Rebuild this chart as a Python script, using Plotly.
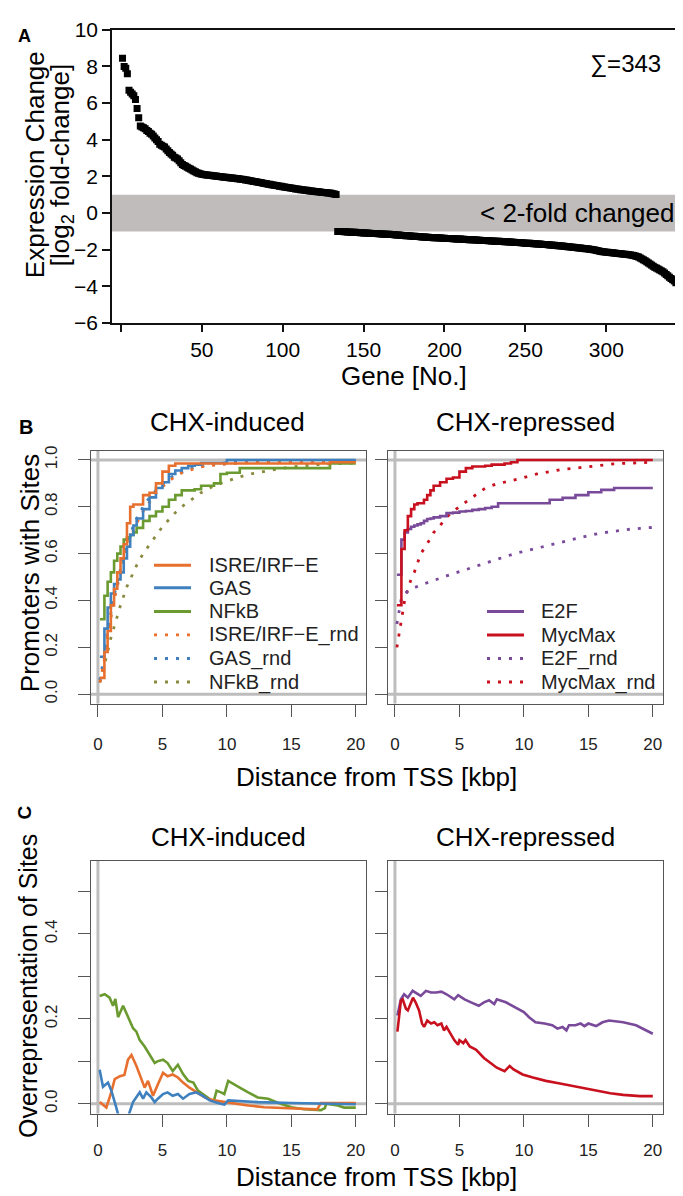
import plotly.graph_objects as go

W, H = 683, 1196
FONT = "Liberation Sans, Arial, Helvetica, sans-serif"

# ---------------- Panel A data (sorted log2 fold-changes) ----------------
expr_up = [
    8.45, 8.0, 7.9, 7.6, 6.7, 6.6, 6.5, 6.4, 6.2, 5.7,
    5.2, 4.75, 4.7, 4.65, 4.6, 4.5, 4.45, 4.35, 4.3, 4.2,
    4.1, 4.0, 3.9, 3.75, 3.7, 3.65, 3.6, 3.5, 3.4, 3.3,
    3.22, 3.15, 3.05, 3.0, 2.95, 2.85, 2.75, 2.65, 2.6, 2.55,
    2.5, 2.45, 2.4, 2.35, 2.3, 2.25, 2.2, 2.17, 2.15, 2.12,
    2.1, 2.09, 2.08, 2.07, 2.06, 2.05, 2.04, 2.03, 2.02, 2.0,
    1.99, 1.98, 1.97, 1.96, 1.95, 1.94, 1.93, 1.92, 1.91, 1.9,
    1.89, 1.88, 1.87, 1.85, 1.84, 1.83, 1.81, 1.8, 1.78, 1.77,
    1.75, 1.73, 1.72, 1.7, 1.68, 1.67, 1.65, 1.63, 1.62, 1.6,
    1.58, 1.57, 1.55, 1.53, 1.52, 1.5, 1.49, 1.47, 1.46, 1.44,
    1.43, 1.41, 1.4, 1.38, 1.37, 1.35, 1.34, 1.32, 1.31, 1.3,
    1.28, 1.27, 1.26, 1.25, 1.24, 1.22, 1.21, 1.2, 1.19, 1.18,
    1.17, 1.16, 1.15, 1.14, 1.13, 1.12, 1.11, 1.1, 1.09, 1.08,
    1.06, 1.04, 1.02,
]
expr_down = [
    -1.0, -1.0, -1.01, -1.01, -1.02, -1.02, -1.03, -1.03, -1.04, -1.04,
    -1.05, -1.05, -1.06, -1.06, -1.07, -1.07, -1.08,
    -1.09, -1.09, -1.1, -1.1, -1.11, -1.11, -1.12, -1.12, -1.13, -1.13,
    -1.14, -1.14, -1.15, -1.15, -1.16, -1.16, -1.17, -1.17, -1.18, -1.19,
    -1.2, -1.2, -1.21, -1.22, -1.22, -1.23, -1.24, -1.24, -1.25, -1.26,
    -1.26, -1.27, -1.28, -1.28, -1.29, -1.3, -1.3, -1.31, -1.32, -1.32,
    -1.33, -1.33, -1.34, -1.34, -1.35, -1.35, -1.36, -1.36, -1.37, -1.37,
    -1.38, -1.38, -1.39, -1.39, -1.4, -1.4, -1.41, -1.41, -1.42, -1.42,
    -1.43, -1.43, -1.44, -1.44, -1.45, -1.45, -1.46, -1.46, -1.47, -1.47,
    -1.48, -1.48, -1.49, -1.49, -1.5, -1.5, -1.51, -1.51, -1.52, -1.52,
    -1.53, -1.53, -1.54, -1.54, -1.55, -1.55, -1.56, -1.56, -1.57, -1.58,
    -1.58, -1.59, -1.59, -1.6, -1.61, -1.61, -1.62, -1.62, -1.63, -1.64,
    -1.64, -1.65, -1.65, -1.66, -1.67, -1.67, -1.68, -1.68, -1.69, -1.7,
    -1.71, -1.71, -1.72, -1.73, -1.74, -1.74, -1.75, -1.76, -1.77, -1.78,
    -1.78, -1.79, -1.8, -1.81, -1.82, -1.83, -1.84, -1.85, -1.86, -1.87,
    -1.88, -1.89, -1.9, -1.91, -1.92, -1.93, -1.94, -1.95, -1.96, -1.97,
    -1.98, -2.0, -2.02, -2.04, -2.06, -2.08, -2.1, -2.11, -2.12, -2.13,
    -2.14, -2.15, -2.16, -2.17, -2.18, -2.19, -2.2, -2.21, -2.22, -2.23,
    -2.24, -2.25, -2.26, -2.27, -2.28, -2.3, -2.32, -2.34, -2.37, -2.4,
    -2.45, -2.5, -2.55, -2.6, -2.66, -2.72, -2.78, -2.84, -2.9, -2.96,
    -3.0, -3.05, -3.1, -3.15, -3.2, -3.27, -3.35, -3.42, -3.5, -3.57,
    -3.63, -3.7, -3.8,
]
expr = expr_up + expr_down
gene_no = list(range(1, len(expr) + 1))
a_xticks = [50, 100, 150, 200, 250, 300]
a_xminor = [0]
a_yticks = [-6, -4, -2, 0, 2, 4, 6, 8, 10]

# ---------------- Panel B data (fraction of promoters with sites) ----------------
dist_b = [0.15, 0.5, 0.75, 1, 1.25, 1.5, 1.75, 2, 2.25, 2.5, 2.75, 3,
          3.5, 4, 4.5, 5, 5.5, 6, 6.5, 7, 7.5, 8, 8.5, 9, 9.5, 10,
          11, 12, 13, 14, 15, 16, 17, 18, 19, 20]
isre_b = [0.07, 0.18, 0.27, 0.38, 0.45, 0.52, 0.58, 0.64, 0.73, 0.80, 0.81, 0.81,
          0.85, 0.86, 0.90, 0.95, 0.975, 0.985, 0.985, 0.985, 0.985, 0.985, 0.985, 0.985, 0.985, 0.985,
          0.985, 0.985, 0.985, 0.985, 0.985, 0.985, 0.985, 0.99, 0.99, 0.99]
gas_b = [0.16, 0.28, 0.37, 0.43, 0.47, 0.49, 0.52, 0.58, 0.63, 0.68, 0.72, 0.75,
         0.79, 0.84, 0.88, 0.905, 0.94, 0.955, 0.965, 0.975, 0.98, 0.987, 0.987, 0.987, 0.987, 1.0,
         1.0, 1.0, 1.0, 1.0, 1.0, 1.0, 1.0, 1.0, 1.0, 1.0]
nfkb_b = [0.32, 0.42, 0.48, 0.52, 0.57, 0.60, 0.63, 0.66, 0.67, 0.68, 0.69, 0.71,
          0.74, 0.76, 0.78, 0.80, 0.83, 0.85, 0.87, 0.87, 0.875, 0.89, 0.89, 0.90, 0.94, 0.945,
          0.965, 0.965, 0.965, 0.965, 0.965, 0.965, 0.965, 0.985, 0.985, 0.985]
isre_rnd_b = [0.05, 0.15, 0.25, 0.33, 0.40, 0.46, 0.52, 0.57, 0.62, 0.66, 0.70, 0.73,
              0.78, 0.82, 0.86, 0.885, 0.91, 0.93, 0.945, 0.955, 0.963, 0.97, 0.975, 0.978, 0.981, 0.984,
              0.987, 0.989, 0.99, 0.991, 0.992, 0.993, 0.994, 0.994, 0.995, 0.995]
gas_rnd_b = [0.06, 0.17, 0.27, 0.35, 0.42, 0.48, 0.54, 0.59, 0.64, 0.68, 0.72, 0.75,
             0.80, 0.84, 0.87, 0.895, 0.92, 0.937, 0.95, 0.96, 0.968, 0.974, 0.979, 0.983, 0.986, 0.988,
             0.991, 0.993, 0.994, 0.995, 0.996, 0.997, 0.997, 0.998, 0.998, 0.998]
nfkb_rnd_b = [0.05, 0.12, 0.18, 0.24, 0.29, 0.34, 0.38, 0.42, 0.46, 0.49, 0.52, 0.55,
              0.60, 0.64, 0.68, 0.715, 0.745, 0.775, 0.80, 0.82, 0.84, 0.86, 0.875, 0.89, 0.90, 0.91,
              0.928, 0.942, 0.953, 0.962, 0.97, 0.976, 0.98, 0.983, 0.985, 0.987]
e2f_b = [0.51, 0.66, 0.69, 0.705, 0.715, 0.72, 0.725, 0.73, 0.74, 0.748, 0.75, 0.755,
         0.76, 0.773, 0.775, 0.78, 0.782, 0.787, 0.79, 0.795, 0.80, 0.815, 0.815, 0.815, 0.815, 0.815,
         0.815, 0.83, 0.838, 0.85, 0.862, 0.872, 0.88, 0.88, 0.88, 0.88]
myc_b = [0.38, 0.62, 0.70, 0.76, 0.79, 0.81, 0.815, 0.815, 0.83, 0.85, 0.87, 0.89,
         0.905, 0.92, 0.925, 0.95, 0.965, 0.972, 0.972, 0.975, 0.98, 0.98, 0.985, 0.99, 1.0, 1.0,
         1.0, 1.0, 1.0, 1.0, 1.0, 1.0, 1.0, 1.0, 1.0, 1.0]
e2f_rnd_b = [0.30, 0.41, 0.43, 0.44, 0.448, 0.455, 0.461, 0.467, 0.472, 0.476, 0.481, 0.485,
             0.495, 0.505, 0.514, 0.523, 0.533, 0.543, 0.553, 0.562, 0.571, 0.58, 0.588, 0.595, 0.603, 0.61,
             0.623, 0.636, 0.65, 0.663, 0.677, 0.688, 0.697, 0.703, 0.708, 0.712]
myc_rnd_b = [0.20, 0.32, 0.40, 0.45, 0.49, 0.52, 0.56, 0.60, 0.62, 0.64, 0.665, 0.69,
             0.72, 0.755, 0.78, 0.80, 0.82, 0.84, 0.86, 0.88, 0.89, 0.90, 0.905, 0.91, 0.918, 0.925,
             0.94, 0.95, 0.96, 0.965, 0.972, 0.978, 0.983, 0.986, 0.988, 0.99]

# ---------------- Panel C data (overrepresentation of sites) ----------------
nfkb_c_x = [0.13, 0.52, 0.9, 1.17, 1.35, 1.56, 1.95, 2.33, 2.72, 2.98, 3.24, 3.62, 4.0, 4.4, 4.6,
            5.05, 5.4, 5.8, 6.2, 6.6, 7.0, 7.4, 7.76, 8.27, 8.8, 9.0, 9.2, 9.55, 9.8, 10.1,
            10.5, 10.9, 11.65, 12.4, 13.2, 14.0, 15.0, 16.0, 17.3, 17.6, 17.7, 18.6, 19.1, 20.0]
nfkb_c_y = [0.254, 0.258, 0.25, 0.231, 0.247, 0.204, 0.231, 0.204, 0.178, 0.17, 0.15, 0.135, 0.115, 0.096, 0.1,
            0.104, 0.096, 0.077, 0.092, 0.07, 0.054, 0.05, 0.031, 0.019, 0.008, 0.008, 0.031, 0.027, 0.023, 0.054,
            0.046, 0.04, 0.027, 0.015, 0.012, 0.002, -0.008, -0.013, -0.015, -0.01, 0.0, -0.004, -0.009, -0.009]
isre_c_x = [0.13, 0.65, 1.04, 1.3, 1.7, 2.05, 2.33, 2.6, 3.0, 3.37, 3.62, 3.88, 4.27, 4.65, 5.05,
            5.4, 5.8, 6.2, 6.6, 7.1, 7.63, 8.27, 9.0, 9.8, 10.6, 11.65, 12.9, 15.0, 17.0, 17.3, 20.0]
isre_c_y = [0.004, -0.009, 0.028, 0.058, 0.065, 0.068, 0.104, 0.115, 0.088, 0.058, 0.038, 0.054, 0.019, 0.046, 0.073,
            0.065, 0.069, 0.062, 0.05, 0.038, 0.027, 0.015, 0.008, 0.004, 0.0, -0.004, -0.008, -0.011, -0.013, 0.002, 0.002]
gas_c_x = [0.13, 0.39, 0.78, 1.04, 1.3, 1.56, 1.8, 2.2, 2.45, 2.72, 3.1, 3.24, 3.5, 3.75, 4.14,
           4.4, 4.65, 5.05, 5.4, 5.8, 6.2, 6.6, 7.1, 7.63, 8.1, 8.66, 9.3, 9.8, 10.1, 11.1,
           12.4, 15.0, 17.6, 20.0]
gas_c_y = [0.08, 0.04, 0.05, 0.031, 0.004, -0.025, -0.05, -0.05, -0.02, 0.004, 0.019, 0.027, 0.012, 0.027, 0.015,
           0.004, 0.012, 0.023, 0.027, 0.019, 0.023, 0.012, 0.023, 0.027, 0.019, 0.008, 0.002, -0.002, 0.008, 0.006,
           0.004, 0.002, 0.0, -0.001]
e2f_c_x = [0.19, 0.46, 0.71, 1.0, 1.37, 1.74, 2.0, 2.4, 2.8, 3.2, 3.6, 4.0, 4.36, 4.6, 4.9,
           5.4, 5.9, 6.5, 6.9, 7.3, 7.7, 7.9, 8.6, 9.3, 10.0, 10.4, 10.9, 11.6, 12.2, 12.6,
           13.0, 13.3, 13.5, 14.0, 14.4, 14.7, 15.0, 15.6, 16.1, 16.6, 17.7, 18.7, 19.5, 20.0]
e2f_c_y = [0.208, 0.246, 0.258, 0.25, 0.266, 0.258, 0.254, 0.266, 0.262, 0.262, 0.264, 0.258, 0.25, 0.246, 0.256,
           0.246, 0.239, 0.231, 0.239, 0.244, 0.235, 0.246, 0.239, 0.227, 0.216, 0.204, 0.192, 0.189, 0.185, 0.177,
           0.181, 0.173, 0.185, 0.185, 0.189, 0.183, 0.189, 0.183, 0.192, 0.196, 0.192, 0.185, 0.173, 0.165]
myc_c_x = [0.19, 0.46, 0.6, 0.85, 1.0, 1.2, 1.4, 1.6, 1.87, 2.1, 2.26, 2.5, 2.8, 3.05, 3.3,
           3.6, 3.8, 4.0, 4.36, 4.6, 4.9, 5.0, 5.3, 5.47, 5.8, 6.3, 6.9, 7.4, 7.9, 8.5,
           8.9, 9.2, 9.9, 10.7, 11.7, 12.8, 13.8, 14.6, 15.6, 16.7, 17.7, 19.0, 20.0]
myc_c_y = [0.17, 0.243, 0.246, 0.224, 0.22, 0.235, 0.25, 0.239, 0.22, 0.189, 0.181, 0.196, 0.189, 0.192, 0.185,
           0.189, 0.173, 0.181, 0.162, 0.15, 0.139, 0.15, 0.143, 0.15, 0.135, 0.127, 0.108, 0.096, 0.085, 0.077,
           0.089, 0.081, 0.069, 0.062, 0.054, 0.048, 0.042, 0.036, 0.031, 0.025, 0.021, 0.018, 0.018]

dist_ticks = [0, 5, 10, 15, 20]
b_yticks = [0, 0.2, 0.4, 0.6, 0.8, 1.0]
b_yticktext = ["0.0", "0.2", "0.4", "0.6", "0.8", "1.0"]
c_yticks = [0, 0.2, 0.4]
c_yticktext = ["0.0", "0.2", "0.4"]
c_yminor = [0.1, 0.3, 0.5]

C_ORANGE = "#E8702F"
C_BLUE = "#3F80BE"
C_GREEN = "#6B9B30"
C_OLIVE = "#8A8A40"
C_PURPLE = "#7A4A9A"
C_RED = "#C8101E"
DOT = "3px,8px"
LW = 2.6


def px(x):
    return x / W


def py(y):
    return 1 - y / H


fig = go.Figure()

# Panel A
fig.add_trace(go.Scatter(x=gene_no, y=expr, mode="markers", xaxis="x", yaxis="y",
                         marker=dict(symbol="square", size=7, color="black", line=dict(width=0)),
                         showlegend=False, hoverinfo="skip"))

# Panel B
b_left = [
    ("ISRE/IRF\u2212E", isre_b, C_ORANGE, "solid"),
    ("GAS", gas_b, C_BLUE, "solid"),
    ("NFkB", nfkb_b, C_GREEN, "solid"),
    ("ISRE/IRF\u2212E_rnd", isre_rnd_b, C_ORANGE, DOT),
    ("GAS_rnd", gas_rnd_b, C_BLUE, DOT),
    ("NFkB_rnd", nfkb_rnd_b, C_OLIVE, DOT),
]
b_right = [
    ("E2F", e2f_b, C_PURPLE, "solid"),
    ("MycMax", myc_b, C_RED, "solid"),
    ("E2F_rnd", e2f_rnd_b, C_PURPLE, DOT),
    ("MycMax_rnd", myc_rnd_b, C_RED, DOT),
]
for i in [5, 4, 3, 2, 1, 0]:
    name, vals, col, dash = b_left[i]
    fig.add_trace(go.Scatter(x=dist_b, y=vals, mode="lines", xaxis="x2", yaxis="y2",
                             line=dict(color=col, width=LW if dash == "solid" else 2.8, dash=dash,
                                       shape="hv" if dash == "solid" else "linear"),
                             name=name, showlegend=False, hoverinfo="skip"))
for i in [3, 2, 0, 1]:
    name, vals, col, dash = b_right[i]
    fig.add_trace(go.Scatter(x=dist_b, y=vals, mode="lines", xaxis="x3", yaxis="y3",
                             line=dict(color=col, width=LW if dash == "solid" else 2.8, dash=dash,
                                       shape="hv" if dash == "solid" else "linear"),
                             name=name, showlegend=False, hoverinfo="skip"))

# Panel C
for xs, ys, col in [(nfkb_c_x, nfkb_c_y, C_GREEN), (isre_c_x, isre_c_y, C_ORANGE), (gas_c_x, gas_c_y, C_BLUE)]:
    fig.add_trace(go.Scatter(x=xs, y=ys, mode="lines", xaxis="x4", yaxis="y4",
                             line=dict(color=col, width=LW), showlegend=False, hoverinfo="skip"))
for xs, ys, col in [(e2f_c_x, e2f_c_y, C_PURPLE), (myc_c_x, myc_c_y, C_RED)]:
    fig.add_trace(go.Scatter(x=xs, y=ys, mode="lines", xaxis="x5", yaxis="y5",
                             line=dict(color=col, width=LW), showlegend=False, hoverinfo="skip"))


def box_axis(domain, rng, **kw):
    d = dict(domain=domain, range=rng, showline=True, mirror=True, linecolor="#555555",
             linewidth=1.2, ticks="outside", ticklen=12, tickcolor="#555555", tickwidth=1.2,
             showgrid=False, zeroline=False, fixedrange=True,
             tickfont=dict(size=17, color="#222222", family=FONT))
    d.update(kw)
    return d


XB_RANGE = [-0.54, 20.79]
B_DOM_Y = [py(697), py(439)]
C_DOM_Y = [py(1115), py(857)]
L_DOM_X = [px(83), px(358)]
R_DOM_X = [px(380), px(655)]
C_MINOR = dict(tickvals=c_yminor, ticks="outside", ticklen=12, tickcolor="#555555", tickwidth=1.2, showgrid=False)

layout = dict(
    width=W, height=H, margin=dict(l=0, r=0, t=0, b=0),
    paper_bgcolor="white", plot_bgcolor="white",
    font=dict(family=FONT, color="black"),
    showlegend=False,
    xaxis=dict(domain=[px(104), px(680)], range=[-5.5, 350.5], anchor="y",
               showline=True, mirror=True, linecolor="#111111", linewidth=1.5,
               ticks="outside", ticklen=7, tickcolor="#111111", tickwidth=1.5,
               tickvals=a_xticks, showgrid=False, zeroline=False,
               minor=dict(tickvals=a_xminor, ticks="outside", ticklen=7, tickcolor="#111111",
                          tickwidth=1.5, showgrid=False),
               tickfont=dict(size=21, color="black", family=FONT)),
    yaxis=dict(domain=[py(309), py(10)], range=[-6, 10], anchor="x",
               showline=True, mirror=True, linecolor="#111111", linewidth=1.5,
               ticks="outside", ticklen=8, tickcolor="#111111", tickwidth=1.5,
               tickvals=a_yticks, showgrid=False, zeroline=False,
               tickfont=dict(size=21, color="black", family=FONT)),
    xaxis2=box_axis(L_DOM_X, XB_RANGE, anchor="y2", tickvals=dist_ticks, ticklabelstandoff=13),
    yaxis2=box_axis(B_DOM_Y, [-0.04, 1.04], anchor="x2", tickvals=b_yticks, ticktext=b_yticktext,
                    tickangle=-90, ticklabelstandoff=14),
    xaxis3=box_axis(R_DOM_X, XB_RANGE, anchor="y3", tickvals=dist_ticks, ticklabelstandoff=13),
    yaxis3=box_axis(B_DOM_Y, [-0.04, 1.04], anchor="x3", tickvals=b_yticks, showticklabels=False),
    xaxis4=box_axis(L_DOM_X, XB_RANGE, anchor="y4", tickvals=dist_ticks, ticklabelstandoff=9),
    yaxis4=box_axis(C_DOM_Y, [-0.023, 0.573], anchor="x4", tickvals=c_yticks, ticktext=c_yticktext,
                    tickangle=-90, ticklabelstandoff=14, minor=C_MINOR),
    xaxis5=box_axis(R_DOM_X, XB_RANGE, anchor="y5", tickvals=dist_ticks, ticklabelstandoff=9),
    yaxis5=box_axis(C_DOM_Y, [-0.023, 0.573], anchor="x5", tickvals=c_yticks, showticklabels=False,
                    minor=C_MINOR),
)
fig.update_layout(**layout)

GRAY = "#BDBDBD"
shapes = [
    # Panel A: < 2-fold band
    dict(type="rect", xref="x domain", yref="y", x0=0, x1=1, y0=-1, y1=1,
         fillcolor="#BFBCBB", line=dict(width=0), layer="below"),
]
for xa, ya, hvals in [("x2", "y2", [0, 1]), ("x3", "y3", [0, 1]), ("x4", "y4", [0]), ("x5", "y5", [0])]:
    for hv in hvals:
        shapes.append(dict(type="line", xref=xa + " domain", yref=ya, x0=0, x1=1, y0=hv, y1=hv,
                           line=dict(color=GRAY, width=3), layer="below"))
    shapes.append(dict(type="line", xref=xa, yref=ya + " domain", x0=0, x1=0, y0=0, y1=1,
                       line=dict(color=GRAY, width=3), layer="below"))

# manual legends
ann = []
leg_left_y = [556, 579, 603, 627, 651, 675]
for (name, vals, col, dash), yy in zip(b_left, leg_left_y):
    shapes.append(dict(type="line", xref="paper", yref="paper", x0=px(146), x1=px(183),
                       y0=py(yy), y1=py(yy), line=dict(color=col, width=3 if dash == "solid" else 2.8, dash=dash)))
    ann.append(dict(text=name, x=px(199), y=py(yy), xref="paper", yref="paper", xanchor="left",
                    yanchor="middle", showarrow=False, font=dict(size=20, color="#222222", family=FONT)))
leg_right_y = [603, 627, 651, 675]
for (name, vals, col, dash), yy in zip(b_right, leg_right_y):
    shapes.append(dict(type="line", xref="paper", yref="paper", x0=px(479), x1=px(516),
                       y0=py(yy), y1=py(yy), line=dict(color=col, width=3 if dash == "solid" else 2.8, dash=dash)))
    ann.append(dict(text=name, x=px(531), y=py(yy), xref="paper", yref="paper", xanchor="left",
                    yanchor="middle", showarrow=False, font=dict(size=20, color="#222222", family=FONT)))


def label(text, x, y, size, angle=0, xanchor="center", bold=False, color="black"):
    ann.append(dict(text=("<b>%s</b>" % text) if bold else text, x=px(x), y=py(y),
                    xref="paper", yref="paper", xanchor=xanchor, yanchor="middle",
                    showarrow=False, textangle=angle,
                    font=dict(size=size, color=color, family=FONT)))


TS = 26
label("A", 16, 16, 18, bold=True)
label("\u2211=343", 617, 45, 24)
label("&lt; 2-fold changed", 668, 197, 26, xanchor="right")
label("Expression Change", 27, 148, TS, angle=-90)
label("[log<sub>2</sub> fold-change]", 53, 148, TS, angle=-90)
label("Gene [No.]", 396, 363, TS)

label("B", 18, 415, 20, bold=True)
label("CHX-induced", 219, 410, TS)
label("CHX-repressed", 517, 410, TS)
label("Promoters with Sites", 22, 564, TS, angle=-90)
label("Distance from TSS [kbp]", 368, 772, TS)

label("C", 16, 808, 19, angle=-90, bold=True)
label("CHX-induced", 220, 833, TS)
label("CHX-repressed", 517, 833, TS)
label("Overrepresentation of Sites", 20, 985, 25, angle=-90)
label("Distance from TSS [kbp]", 368, 1180, TS)

fig.update_layout(shapes=shapes, annotations=ann)
fig.write_html("out.html")
